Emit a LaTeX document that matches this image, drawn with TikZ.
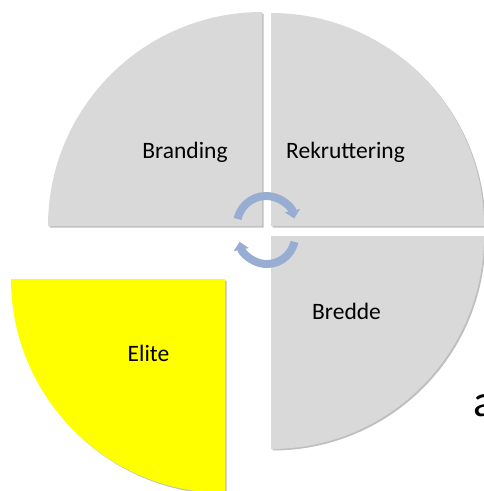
\documentclass[tikz,border=0pt]{standalone}
\usepackage{fontspec}
\setmainfont{Carlito}
\usetikzlibrary{arrows.meta,shadows}
\definecolor{quartergray}{RGB}{217,217,217}
\definecolor{eliteyellow}{RGB}{255,255,0}
\definecolor{cyclearrow}{RGB}{152,173,210}
\tikzset{
  quarter/.style={draw=none, drop shadow={shadow xshift=1.5pt, shadow yshift=-1.5pt, opacity=0.25, fill=black}},
  label/.style={anchor=base, inner sep=0pt, font=\fontsize{23.5}{28}\selectfont, text=black},
  cyc/.style={draw=cyclearrow, line width=8pt, -{Triangle[width=15pt,length=8pt]}}
}
\begin{document}
\begin{tikzpicture}[x=1pt,y=-1pt]
\useasboundingbox (0,0) rectangle (484,491);
% quarters
\fill[quarter, fill=quartergray] (262,226) -- ++(-214,0) arc[start angle=180, end angle=270, radius=214] -- cycle;
\fill[quarter, fill=quartergray] (271,226) -- ++(0,-213) arc[start angle=270, end angle=360, radius=213] -- cycle;
\fill[quarter, fill=quartergray] (271,236) -- ++(213,0) arc[start angle=0, end angle=90, radius=213] -- cycle;
\fill[quarter, fill=eliteyellow] (225,279) -- ++(0,214) arc[start angle=90, end angle=180, radius=214] -- cycle;
% cycle arrows
\draw[cyc] (266,225) ++(192:29) arc[start angle=192, end angle=347, radius=29];
\draw[cyc] (267,236) ++(12:28) arc[start angle=12, end angle=168, radius=28];
% labels
\node[label] (branding) at (185,158) {Branding};
\node[label] (rekruttering) at (345.5,158) {Rekruttering};
\node[label] (bredde) at (346.5,319) {Bredde};
\node[label] (elite) at (148.5,361) {Elite};
\node[anchor=base west, inner sep=0pt, font=\fontsize{45}{54}\selectfont] (a) at (473,416) {a};
\end{tikzpicture}
\end{document}
